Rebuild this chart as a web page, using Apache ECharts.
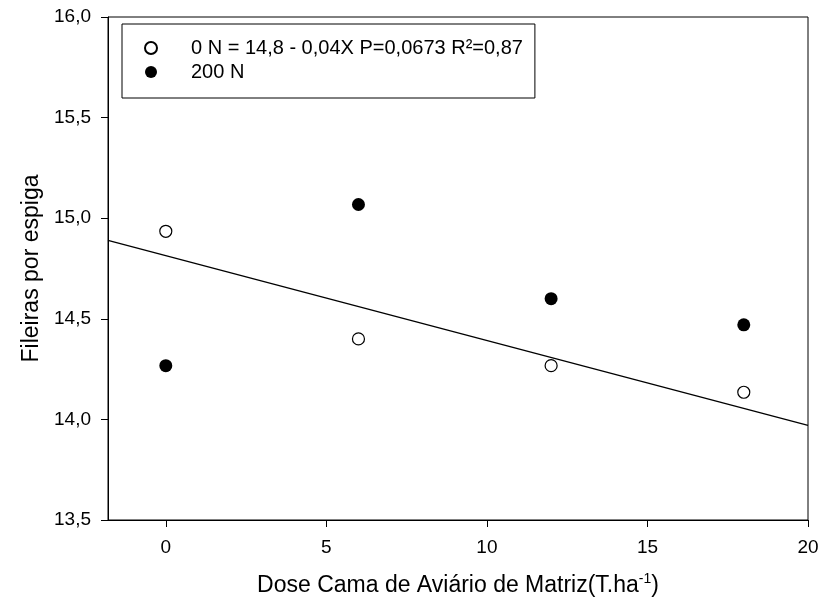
<!DOCTYPE html>
<html>
<head>
<meta charset="utf-8">
<script src="https://cdn.jsdelivr.net/npm/echarts@6/dist/echarts.min.js"></script>
<style>html,body{margin:0;padding:0;background:#fff}#c{width:820px;height:604px}</style>
</head>
<body>
<div id="c"></div>
<script>
// Data
const doses = [0, 6, 12, 18];
const rows0N = [14.935, 14.40, 14.267, 14.135];
const rows200N = [14.267, 15.068, 14.60, 14.47];
// regression line endpoints (0 N = 14,8 - 0,04X) across the x-axis range
const fitX = [-1.8, 20];
const fitY = [14.89, 13.97];
const xTicks = [0, 5, 10, 15, 20];
const seriesNames = ['0 N = 14,8 - 0,04X P=0,0673 R\u00B2=0,87', '200 N'];

const font = "'Liberation Sans', Arial, sans-serif";
const chart = echarts.init(document.getElementById('c'));
const fmtY = v => v.toFixed(1).replace('.', ',');

chart.setOption({
  animation: false,
  backgroundColor: '#fff',
  textStyle: {fontFamily: font, color: '#000'},
  grid: {left: 108, right: 12, top: 17, bottom: 84, show: true, borderColor: '#000', borderWidth: 1,
         containLabel: false, outerBoundsMode: 'none'},
  legend: {
    orient: 'vertical', left: 122, top: 24,
    borderColor: '#000', borderWidth: 1,
    padding: [14, 12, 16, 22],
    itemWidth: 12, itemHeight: 12, itemGap: 4,
    textStyle: {fontFamily: font, fontSize: 20, color: '#000', lineHeight: 20, padding: [0, 0, 0, 29]},
    data: seriesNames
  },
  xAxis: {
    type: 'value', min: -1.8, max: 20,
    splitLine: {show: false},
    axisLine: {show: true, onZero: false, lineStyle: {color: '#000', width: 1}},
    axisTick: {show: true, length: 7, customValues: xTicks, lineStyle: {color: '#000'}},
    axisLabel: {customValues: xTicks, fontSize: 19, color: '#000', margin: 18, fontFamily: font},
    name: 'Dose Cama de Aviário de Matriz(T.ha{sup|-1})',
    nameLocation: 'middle', nameGap: 52,
    nameTextStyle: {fontSize: 23, color: '#000', fontFamily: font,
      rich: {sup: {fontSize: 14, verticalAlign: 'top', padding: [0, 0, 14, 0], fontFamily: font, color: '#000'}}}
  },
  yAxis: {
    type: 'value', min: 13.5, max: 16, interval: 0.5,
    splitLine: {show: false},
    axisLine: {show: true, onZero: false, lineStyle: {color: '#000', width: 1}},
    axisTick: {show: true, length: 7, lineStyle: {color: '#000'}},
    axisLabel: {formatter: fmtY, fontSize: 19, color: '#000', margin: 17, fontFamily: font},
    name: 'Fileiras por espiga', nameLocation: 'middle', nameGap: 65,
    nameTextStyle: {fontSize: 23, color: '#000', fontFamily: font}
  },
  series: [
    {
      type: 'line', data: fitX.map((x, i) => [x, fitY[i]]),
      showSymbol: false, symbol: 'none', silent: true,
      lineStyle: {color: '#000', width: 1.3}, z: 1
    },
    {
      name: seriesNames[0], type: 'scatter', symbol: 'circle', symbolSize: 12,
      data: doses.map((x, i) => [x, rows0N[i]]),
      itemStyle: {color: '#fff', borderColor: '#000', borderWidth: 1.2, opacity: 1}, z: 3
    },
    {
      name: seriesNames[1], type: 'scatter', symbol: 'circle', symbolSize: 13,
      data: doses.map((x, i) => [x, rows200N[i]]),
      itemStyle: {color: '#000', borderColor: '#000', borderWidth: 0, opacity: 1}, z: 3
    }
  ]
});
</script>
</body>
</html>
